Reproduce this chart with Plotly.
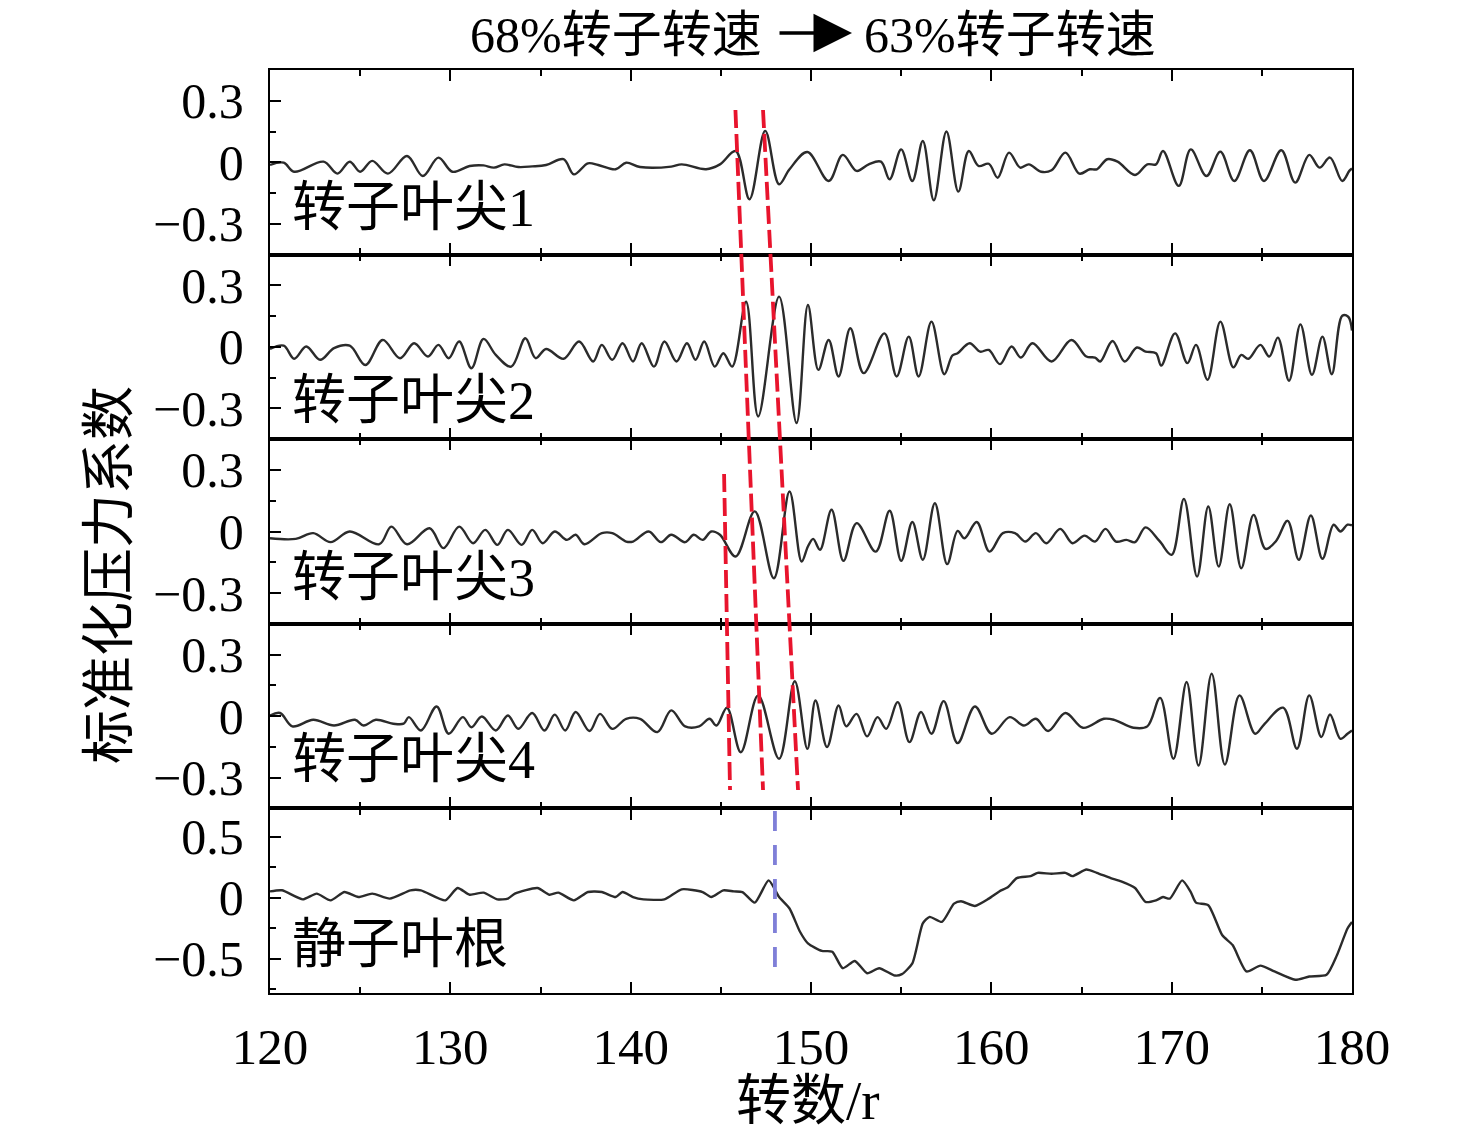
import plotly.graph_objects as go
from plotly.subplots import make_subplots

# ---------------- data ----------------
rev_tip1 = [120.0, 120.76, 121.34, 122.97, 123.74, 124.42, 125.0, 125.67, 126.54, 127.6, 128.47, 129.34,
            130.11, 131.07, 131.84, 132.42, 133.0, 133.77, 134.54, 135.31, 136.28, 136.85, 137.63, 138.2,
            139.17, 139.75, 140.52, 142.25, 142.83, 144.18, 144.95, 145.82, 146.59, 147.46, 148.23, 148.81,
            149.8, 150.98, 151.76, 152.53, 153.2, 153.88, 154.36, 155.0, 155.62, 156.2, 156.81, 157.51,
            158.17, 158.75, 159.29, 159.86, 160.35, 160.98, 161.6, 162.08, 162.76, 163.34, 164.11, 164.88,
            165.46, 165.85, 166.43, 167.0, 167.97, 168.65, 169.13, 169.52, 170.39, 171.06, 171.93, 172.7,
            173.47, 174.34, 175.12, 176.08, 176.85, 177.63, 178.2, 178.78, 179.46, 179.85, 180.0]
p_tip1 = [-0.013, -0.002, -0.046, 0.003, -0.055, 0.003, -0.046, 0.007, -0.055, 0.031, -0.067, 0.023,
          -0.046, -0.018, -0.015, -0.026, -0.010, -0.023, -0.020, -0.013, 0.015, -0.059, -0.005, -0.013,
          -0.034, -0.002, -0.023, -0.021, -0.010, -0.034, -0.010, 0.055, -0.180, 0.153, -0.107, -0.034,
          0.050, -0.091, 0.036, -0.042, -0.010, 0.003, -0.083, 0.063, -0.091, 0.104, -0.185, 0.150,
          -0.143, 0.055, -0.018, -0.007, -0.075, 0.047, -0.026, -0.010, -0.046, -0.039, 0.047, -0.055,
          -0.034, -0.034, 0.015, 0.003, -0.062, -0.010, -0.010, 0.055, -0.115, 0.063, -0.067, 0.052,
          -0.091, 0.059, -0.091, 0.059, -0.099, 0.036, -0.026, 0.023, -0.091, -0.042, -0.030]

rev_tip2 = [120.0, 120.76, 121.34, 122.01, 122.78, 123.55, 124.42, 125.29, 126.25, 127.21, 127.99, 128.76,
            129.34, 129.91, 130.49, 131.17, 131.84, 132.52, 133.38, 134.16, 134.73, 135.31, 136.28, 137.14,
            137.92, 138.4, 138.98, 139.55, 140.13, 140.61, 141.29, 141.87, 142.54, 143.12, 143.6, 144.08,
            144.66, 145.14, 145.63, 146.4, 147.07, 148.23, 149.2,
            149.83, 150.41, 150.98, 151.53, 152.18, 152.92, 154.07, 154.75, 155.42, 155.97, 156.68, 157.39,
            157.84, 158.13, 158.8, 159.38, 159.86, 160.48, 161.12, 161.64, 162.28, 163.34, 164.44, 165.27,
            165.75, 166.04, 166.72, 167.39, 168.07, 168.55, 169.13, 169.42, 170.19, 170.87, 171.35, 171.99,
            172.7, 173.42, 173.86, 174.25, 174.92, 175.41, 175.89, 176.51, 177.14, 177.78, 178.36, 178.88,
            179.46, 179.79, 180.0]
p_tip2 = [-0.010, 0.006, -0.058, 0.002, -0.063, -0.006, 0.006, -0.088, 0.034, -0.055, 0.018, -0.047,
          0.010, -0.055, 0.026, -0.104, 0.039, -0.039, -0.096, 0.042, -0.055, -0.010, -0.058, 0.026,
          -0.071, 0.010, -0.063, 0.018, -0.071, 0.018, -0.096, 0.026, -0.071, 0.018, -0.063, 0.026,
          -0.096, -0.031, -0.096, 0.220, -0.339, 0.245, -0.371,
          0.204, -0.112, 0.034, -0.144, 0.091, -0.128, 0.066, -0.144, 0.050, -0.144, 0.123, -0.133,
          -0.042, -0.031, 0.018, -0.023, -0.015, -0.084, 0.002, -0.052, 0.018, -0.071, 0.034, -0.047,
          -0.052, -0.071, 0.029, -0.071, -0.003, -0.023, -0.031, -0.091, 0.066, -0.079, 0.010, -0.160,
          0.123, -0.100, -0.039, -0.058, 0.010, -0.047, 0.045, -0.165, 0.110, -0.136, 0.050, -0.133,
          0.152, 0.147, 0.080]

rev_tip3 = [120.0, 121.43, 122.4, 123.36, 124.42, 126.06, 126.73, 127.6, 128.85, 129.62, 130.49, 131.26,
            131.94, 132.61, 133.19, 133.96, 134.54, 135.12, 135.79, 136.47, 136.95, 137.43, 138.4, 138.98,
            139.75, 140.13, 141.0, 141.67, 142.25, 143.02, 143.5, 143.99, 144.47, 144.95, 145.82, 146.88,
            147.94, 148.81, 149.48,
            149.83, 150.12, 150.5, 151.14, 151.8, 152.53, 153.59, 154.36, 155.0, 155.62, 156.2, 156.87,
            157.55, 158.13, 158.51, 159.19, 159.9, 160.64, 161.31, 161.89, 162.47, 163.05, 163.82, 164.5,
            165.17, 165.75, 166.33, 166.91, 167.49, 167.97, 168.55, 169.32, 170.0, 170.68, 171.41, 172.03,
            172.61, 173.22, 173.86, 174.54, 175.21, 175.79, 176.43, 177.05, 177.72, 178.36, 178.98, 179.36,
            179.75, 180.0]
p_tip3 = [-0.033, -0.036, -0.008, -0.052, 0.000, -0.062, 0.024, -0.062, 0.016, -0.081, 0.024, -0.057,
          0.008, -0.065, 0.008, -0.065, 0.008, -0.057, 0.000, -0.041, -0.016, -0.062, -0.008, -0.008,
          -0.049, -0.049, 0.000, -0.052, -0.016, -0.052, -0.016, -0.041, 0.000, -0.016, -0.122, 0.098,
          -0.228, 0.195, -0.146,
          -0.073, -0.036, -0.089, 0.106, -0.143, 0.041, -0.098, 0.101, -0.143, 0.046, -0.138, 0.138,
          -0.159, 0.003, -0.033, 0.046, -0.098, -0.008, -0.008, -0.049, -0.008, -0.057, 0.013, -0.057,
          -0.020, -0.049, 0.013, -0.049, -0.041, -0.052, 0.020, -0.046, -0.114, 0.159, -0.220, 0.122,
          -0.171, 0.133, -0.179, 0.081, -0.085, -0.046, 0.052, -0.138, 0.078, -0.133, 0.033, 0.000,
          0.033, 0.030]

rev_tip4 = [120.0, 120.56, 121.24, 122.4, 123.55, 124.71, 125.19, 125.87, 126.83, 127.41, 127.7, 128.37,
            129.24, 129.91, 130.69, 131.17, 131.75, 132.52, 133.19, 133.77, 134.54, 135.22, 135.79, 136.37,
            136.95, 137.72, 138.3, 138.98, 139.75, 140.52, 141.48, 142.25, 143.02, 143.8, 144.37, 144.76,
            145.34, 146.11, 147.07, 148.23, 149.1,
            149.8, 150.25, 150.89, 151.53, 151.95, 152.53, 153.11, 153.69, 154.17, 154.81, 155.46, 156.1,
            156.68, 157.36, 158.13, 159.09, 160.02, 161.02, 161.8, 162.47, 163.15, 164.11, 165.08, 166.24,
            166.81, 167.88, 168.65, 169.36, 170.1, 170.83, 171.49, 172.22, 172.95, 173.76, 174.63, 175.12,
            176.18, 176.95, 177.63, 178.3, 178.78, 179.36, 179.75, 180.0]
p_tip4 = [0.003, 0.015, -0.050, -0.018, -0.046, -0.018, -0.046, -0.018, -0.037, -0.037, -0.005, -0.070,
          0.047, -0.086, -0.005, -0.054, -0.002, -0.070, 0.003, -0.062, 0.015, -0.070, 0.007, -0.070,
          0.020, -0.073, 0.011, -0.062, -0.013, -0.013, -0.078, 0.028, -0.050, -0.050, -0.013, -0.046,
          0.041, -0.176, 0.101, -0.208, 0.170,
          -0.160, 0.076, -0.151, 0.052, -0.050, 0.011, -0.099, -0.005, -0.062, 0.068, -0.127, 0.020,
          -0.086, 0.073, -0.132, 0.047, -0.086, -0.005, -0.046, -0.013, -0.073, 0.015, -0.057, -0.013,
          -0.018, -0.057, -0.050, 0.089, -0.208, 0.166, -0.241, 0.207, -0.236, 0.101, -0.086, -0.041,
          0.041, -0.159, 0.101, -0.102, 0.008, -0.111, -0.086, -0.070]

rev_root = [120.0, 120.66, 121.82, 122.59, 123.36, 124.13, 124.9, 125.67, 126.64, 127.79, 128.37, 129.72,
            130.4, 131.07, 131.84, 132.61, 133.19, 133.58, 134.83, 135.5, 135.99, 136.85, 137.63, 138.4,
            139.17, 139.55, 140.13, 140.71, 141.87, 142.83, 143.99, 144.47, 145.14, 145.72, 146.2, 146.88,
            147.65, 148.23, 148.81, 149.39,
            149.83, 150.6, 151.18, 151.76, 152.43, 153.11, 153.78, 154.65, 155.04, 155.62, 156.2, 156.58,
            157.26, 157.93, 158.32, 159.09, 159.86, 160.44, 160.93, 161.41, 162.18, 162.57, 163.34, 164.11,
            164.5, 165.27, 165.85, 166.62, 167.2, 167.97, 168.55, 169.13, 169.52, 169.9, 170.58, 171.06,
            171.35, 172.03, 172.8, 173.38, 174.15, 174.92, 175.7, 176.85, 177.63, 178.59, 179.17, 179.75,
            180.0]
p_root = [0.051, 0.060, -0.014, 0.033, -0.022, 0.046, 0.005, 0.033, -0.008, 0.060, 0.060, -0.022,
          0.079, 0.024, 0.041, -0.014, -0.008, 0.033, 0.079, 0.024, 0.041, -0.022, 0.046, 0.046,
          0.005, 0.046, 0.005, -0.014, -0.014, 0.068, 0.046, 0.005, 0.060, 0.051, 0.046, -0.041,
          0.141, 0.005, -0.089, -0.279,
          -0.374, -0.436, -0.442, -0.577, -0.518, -0.618, -0.577, -0.637, -0.626, -0.537, -0.211, -0.157,
          -0.198, -0.049, -0.030, -0.068, -0.008, 0.051, 0.087, 0.160, 0.176, 0.203, 0.195, 0.203,
          0.176, 0.230, 0.203, 0.160, 0.133, 0.079, -0.035, -0.022, 0.005, -0.008, 0.141, 0.046,
          -0.041, -0.062, -0.306, -0.388, -0.604, -0.556, -0.604, -0.672, -0.645, -0.631, -0.469, -0.252,
          -0.200]

panel_names = ["转子叶尖1", "转子叶尖2", "转子叶尖3", "转子叶尖4", "静子叶根"]
tip_ticks = [-0.3, 0, 0.3]
root_ticks = [-0.5, 0, 0.5]
x_ticks = [120, 130, 140, 150, 160, 170, 180]
title_left = "68%转子转速"
title_right = "63%转子转速"
y_title = "标准化压力系数"
x_title = "转数/r"

# ---------------- figure ----------------
W, H = 1476, 1138
OFF = 8  # page body margin of the browser
PL, PR, PT, PB = 270, 1352, 70, 993      # wanted plot box on screen
L, T = PL - OFF, PT - OFF
R = W - (PR - OFF)
B = H - (PB - OFF)
plot_w = PR - PL
plot_h = PB - PT

def px_x(px):
    return (px - PL) / plot_w

def px_y(py):
    return (PB - py) / plot_h

LAT = "Liberation Serif, Noto Sans CJK SC, serif"
fig = make_subplots(rows=5, cols=1, shared_xaxes=True, vertical_spacing=0)

series = [(rev_tip1, p_tip1), (rev_tip2, p_tip2), (rev_tip3, p_tip3), (rev_tip4, p_tip4), (rev_root, p_root)]
for i, (xs, ys) in enumerate(series):
    fig.add_trace(go.Scatter(x=xs, y=ys, mode="lines",
                             line=dict(color="#2b2b2b", width=2.4, shape="spline",
                                       smoothing=1.0 if i < 4 else 0.6),
                             showlegend=False, hoverinfo="skip"), row=i + 1, col=1)

for i in range(5):
    last = (i == 4)
    fig.update_xaxes(row=i + 1, col=1, range=[120, 180], tickvals=x_ticks,
                     showline=True, linecolor="black", linewidth=2.4, mirror="ticks",
                     ticks="inside", ticklen=11, tickwidth=2, tickcolor="black",
                     minor=dict(dtick=5, tick0=120, ticks="inside", ticklen=6, tickwidth=2, tickcolor="black"),
                     showgrid=False, zeroline=False, showticklabels=last,
                     tickfont=dict(family=LAT, size=51, color="black"), ticklabelstandoff=8)
    if i < 4:
        yr, tv, md = [-0.45, 0.45], tip_ticks, 0.15
    else:
        yr, tv, md = [-0.78, 0.73], root_ticks, 0.25
    fig.update_yaxes(row=i + 1, col=1, range=yr, tickvals=tv,
                     showline=True, linecolor="black", linewidth=2.4, mirror=True,
                     ticks="inside", ticklen=11, tickwidth=2, tickcolor="black",
                     minor=dict(dtick=md, tick0=0, ticks="inside", ticklen=6, tickwidth=2, tickcolor="black"),
                     showgrid=False, zeroline=False,
                     tickfont=dict(family=LAT, size=50, color="black"), ticklabelstandoff=14)

# panel labels
label_y = [208, 401, 578, 760, 945]
for name, ly in zip(panel_names, label_y):
    fig.add_annotation(xref="paper", yref="paper", x=px_x(290), y=px_y(ly), text=name,
                       showarrow=False, xanchor="left", yanchor="middle",
                       font=dict(family=LAT, size=54, color="black"))

# axis titles
fig.add_annotation(xref="paper", yref="paper", x=px_x(110), y=px_y(575), text=y_title, textangle=-90,
                   showarrow=False, xanchor="center", yanchor="middle",
                   font=dict(family=LAT, size=54, color="black"))
fig.add_annotation(xref="paper", yref="paper", x=px_x(808), y=px_y(1100), text=x_title,
                   showarrow=False, xanchor="center", yanchor="middle",
                   font=dict(family=LAT, size=55, color="black"))

# title with arrow
fig.add_annotation(xref="paper", yref="paper", x=px_x(764), y=px_y(35), text=title_left,
                   showarrow=False, xanchor="right", yanchor="middle",
                   font=dict(family=LAT, size=50, color="black"))
fig.add_annotation(xref="paper", yref="paper", x=px_x(862), y=px_y(35), text=title_right,
                   showarrow=False, xanchor="left", yanchor="middle",
                   font=dict(family=LAT, size=50, color="black"))
fig.add_annotation(xref="paper", yref="paper", x=px_x(852), y=px_y(33), ax=-74, ay=0, text="",
                   showarrow=True, arrowhead=2, arrowsize=2.2, arrowwidth=3.5, arrowcolor="black")

# dashed marker lines
red = "#e8142d"
red_lines = [(145.81, 110, 147.34, 790), (147.34, 110, 149.28, 790), (145.18, 474, 145.51, 790)]
for x0, y0, x1, y1 in red_lines:
    fig.add_shape(type="line", xref="x", yref="paper", x0=x0, y0=px_y(y0), x1=x1, y1=px_y(y1),
                  line=dict(color=red, width=3.8, dash="18px,6px"))
fig.add_shape(type="line", xref="x", yref="paper", x0=148.0, y0=px_y(811), x1=148.0, y1=px_y(978),
              line=dict(color="#7f7fd8", width=3.8, dash="20px,14px"))

fig.update_layout(width=W, height=H, margin=dict(l=L, r=R, t=T, b=B),
                  paper_bgcolor="white", plot_bgcolor="white",
                  font=dict(family=LAT, color="black"))

fig.write_html("out.html")
